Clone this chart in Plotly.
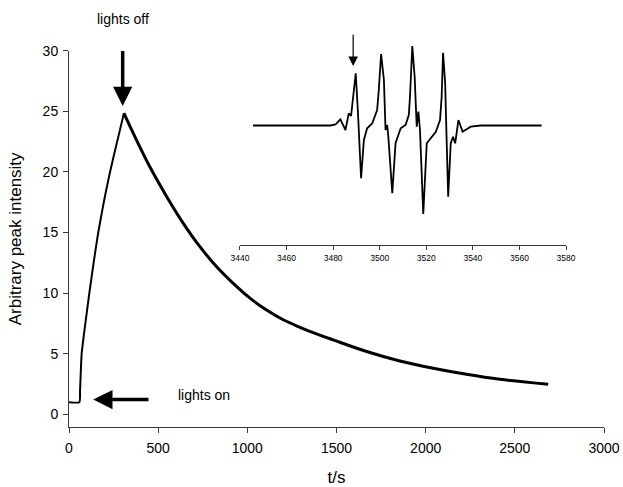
import plotly.graph_objects as go

# Main kinetic trace
t_rise = [0, 58, 62, 71, 90, 114, 140, 164, 195, 230, 270, 308]
y_rise = [1.0, 1.0, 2.0, 5.0, 7.3, 10.0, 12.7, 15.0, 17.5, 20.0, 22.5, 24.85]

t_decay = [308, 360, 454, 548, 641, 734, 828, 921, 1015, 1108, 1201, 1295,
           1388, 1481, 1669, 1855, 2042, 2229, 2416, 2687]
y_decay = [24.85, 23.2, 20.4, 17.96, 15.76, 13.83, 12.17, 10.8, 9.58, 8.6, 7.8, 7.18,
           6.63, 6.14, 5.18, 4.4, 3.8, 3.3, 2.89, 2.48]

# Inset EPR spectrum (field in G, arbitrary signal)
field = [3445.6, 3478.8, 3481.0, 3483.1, 3485.3, 3486.7, 3487.7, 3488.6, 3489.7,
         3490.6, 3492.0, 3493.2, 3494.6, 3496.8, 3498.9, 3499.6, 3500.6, 3501.8,
         3502.5, 3503.2, 3503.7, 3505.4, 3506.8, 3509.0, 3511.1, 3512.5, 3513.0,
         3514.0, 3515.0, 3515.9, 3516.6, 3517.3, 3518.7, 3520.2, 3521.9, 3524.1,
         3525.9, 3526.6, 3527.2, 3528.1, 3528.7, 3529.4, 3530.5, 3531.5, 3532.4,
         3533.8, 3535.6, 3537.0, 3539.1, 3543.4, 3569.5]
signal = [0, 0, 1.0, 6.2, -4.5, 12.2, 9.5, 28.8, 52.2,
          15.5, -52.8, -14.5, -2.8, 2.2, 15.5, 35.5, 71.5, 45.5,
          -4.5, 0.5, -11.2, -67.8, -17.8, -2.8, 0.5, 10.5, 28.8,
          79.5, 48.8, -1.2, 13.8, -4.5, -88.5, -17.8, -12.8, -6.2,
          5.5, 28.8, 72.8, 42.2, -11.2, -71.2, -17.8, -11.2, -17.8,
          5.5, -6.2, -4.5, -1.2, 0, 0]

x_ticks = [0, 500, 1000, 1500, 2000, 2500, 3000]
y_ticks = [0, 5, 10, 15, 20, 25, 30]
inset_ticks = [3440, 3460, 3480, 3500, 3520, 3540, 3560, 3580]

FONT = "Liberation Sans, Arial, sans-serif"
AX = "#3a3a3a"

fig = go.Figure()
fig.add_trace(go.Scatter(x=t_rise, y=y_rise, mode="lines",
                         line=dict(color="black", width=2, shape="spline",
                                   smoothing=0.5),
                         showlegend=False, xaxis="x", yaxis="y"))
fig.add_trace(go.Scatter(x=t_decay, y=y_decay, mode="lines",
                         line=dict(color="black", width=3, shape="spline"),
                         showlegend=False, xaxis="x", yaxis="y"))
fig.add_trace(go.Scatter(x=field, y=signal, mode="lines",
                         line=dict(color="black", width=1.8), showlegend=False,
                         xaxis="x2", yaxis="y2"))

fig.update_layout(
    width=623, height=487,
    margin=dict(l=69, r=19, t=28, b=60, autoexpand=False),
    paper_bgcolor="white", plot_bgcolor="white",
    font=dict(family=FONT, color="black", size=14),
    xaxis=dict(range=[0, 3000], tickvals=x_ticks, showline=True, linecolor=AX,
               linewidth=1, ticks="outside", ticklen=5, tickcolor=AX,
               showgrid=False, zeroline=False, anchor="y", automargin=False,
               tickfont=dict(size=14), ticklabelstandoff=3,
               title=dict(text="t/s", font=dict(size=17), standoff=20)),
    yaxis=dict(range=[-1.05, 30], domain=[0, 0.943], tickvals=y_ticks,
               showline=True, linecolor=AX, linewidth=1, ticks="outside",
               ticklen=5, tickcolor=AX, showgrid=False, zeroline=False,
               anchor="x", automargin=False, tickfont=dict(size=14),
               ticklabelstandoff=2,
               title=dict(text="Arbitrary peak intensity", font=dict(size=17),
                          standoff=16)),
    xaxis2=dict(range=[3440, 3580], domain=[0.3196, 0.929], tickvals=inset_ticks,
                showline=True, linecolor=AX, linewidth=1, ticks="outside",
                ticklen=4, tickcolor=AX, showgrid=False, zeroline=False,
                anchor="y2", automargin=False, tickfont=dict(size=8.5)),
    yaxis2=dict(range=[-120, 97.5], domain=[0.4549, 1], visible=False,
                anchor="x2"),
)

# lights off arrow + text
fig.add_annotation(x=301, y=25.45, ax=301, ay=30.1, xref="x", yref="y",
                   axref="x", ayref="y", text="", showarrow=True,
                   arrowhead=2, arrowsize=1.1, arrowwidth=3.5, arrowcolor="black")
fig.add_annotation(x=304, y=1.0226, xref="x", yref="paper", text="lights off",
                   showarrow=False, font=dict(size=14), yanchor="middle")
# lights on arrow + text
fig.add_annotation(x=136, y=1.21, ax=454, ay=1.21, xref="x", yref="y",
                   axref="x", ayref="y", text="", showarrow=True,
                   arrowhead=2, arrowsize=1.1, arrowwidth=3.5, arrowcolor="black")
fig.add_annotation(x=600, y=1.6, xref="x", yref="y", text="lights on",
                   showarrow=False, font=dict(size=14), xanchor="left",
                   yanchor="middle")
# inset arrow
fig.add_annotation(x=3488.6, y=59.5, ax=3488.6, ay=92.2, xref="x2", yref="y2",
                   axref="x2", ayref="y2", text="", showarrow=True,
                   arrowhead=2, arrowsize=1.6, arrowwidth=1.2, arrowcolor="black")

fig.write_html("out.html",
               config={"displayModeBar": False},
               post_script="document.body.style.margin='0px';"
                           "document.body.style.overflow='hidden';")
